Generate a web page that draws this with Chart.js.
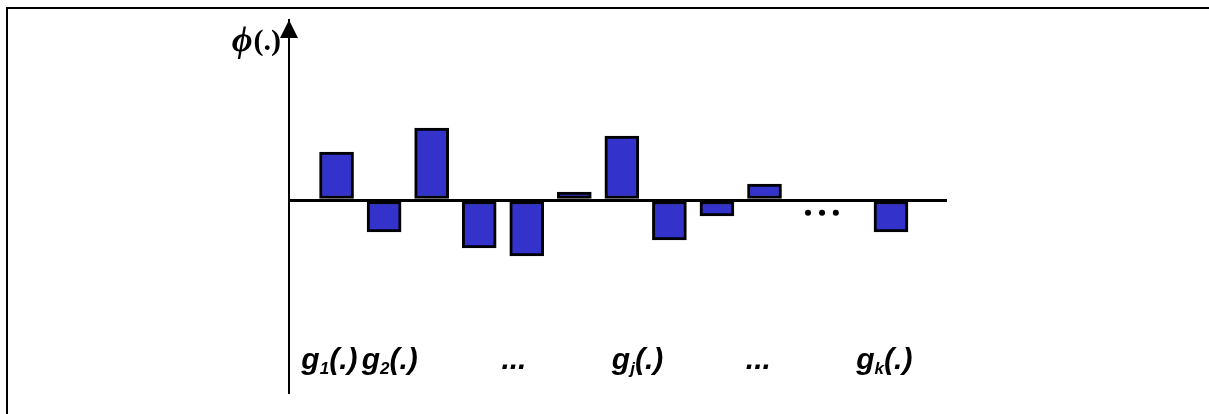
<!DOCTYPE html>
<html><head><meta charset="utf-8">
<script src="https://cdn.jsdelivr.net/npm/chart.js@4.4.1/dist/chart.umd.min.js"></script>
<style>
html,body{margin:0;padding:0;background:#fff;}
#wrap{position:relative;width:1209px;height:414px;overflow:hidden;background:#fff;}
#frame{position:absolute;left:6px;top:7px;width:1300px;height:500px;border-top:2px solid #000;border-left:2px solid #000;}
canvas{position:absolute;left:0;top:0;}
</style></head><body>
<div id="wrap"><div id="frame"></div><canvas id="c" width="1209" height="414"></canvas></div>
<script>
// ---- data ----
const barPositions = [1, 2, 3, 4, 5, 6, 7, 8, 9, 10, 12.66];
const barValues    = [6, -4, 9, -6, -7, 1, 8, -5, -2, 2, -4];
const dotPositions = [10.915, 11.21, 11.5];
const dotValues    = [-1.6, -1.6, -1.6];
const tickPositions = [0.85, 2.12, 4.73, 7.33, 9.87, 12.52];
const tickBase = ['g', 'g', '...', 'g', '...', 'g'];
const tickSub  = ['1', '2', '', 'j', '', 'k'];
const tickTail = ['(.)', '(.)', '', '(.)', '', '(.)'];
const yTitleSymbol = 'ϕ';
const yTitleTail = '(.)';

const axisArrow = {
  id: 'axisArrow',
  afterDraw(chart) {
    const c = chart.ctx, a = chart.chartArea;
    c.save();
    c.fillStyle = '#000';
    c.beginPath();
    c.moveTo(a.left, a.top);
    c.lineTo(a.left - 9, a.top + 18);
    c.lineTo(a.left + 9, a.top + 18);
    c.closePath();
    c.fill();
    // y title
    c.textBaseline = 'alphabetic';
    c.font = 'bold 30px "Liberation Serif", "DejaVu Serif", serif';
    const tw = c.measureText(yTitleTail).width;
    c.textAlign = 'right';
    c.fillText(yTitleTail, a.left - 8, 50);
    c.font = 'italic bold 36px "Liberation Serif", "DejaVu Serif", serif';
    c.fillText(yTitleSymbol, a.left - 9 - tw, 51);
    c.restore();
  }
};

const xLabels = {
  id: 'xLabels',
  afterDraw(chart) {
    const c = chart.ctx, xs = chart.scales.x;
    const mainFont = 'italic bold 30px "Liberation Sans", Arial, sans-serif';
    const subFont = 'italic bold 17px "Liberation Sans", Arial, sans-serif';
    const baseY = 369;
    c.save();
    c.fillStyle = '#000';
    c.textAlign = 'left';
    c.textBaseline = 'alphabetic';
    tickPositions.forEach((p, i) => {
      c.font = mainFont;
      const w1 = c.measureText(tickBase[i]).width;
      const w3 = c.measureText(tickTail[i]).width;
      c.font = subFont;
      const w2 = c.measureText(tickSub[i]).width;
      const total = w1 + w2 + w3;
      let x = xs.getPixelForValue(p) - total / 2;
      c.font = mainFont;
      c.fillText(tickBase[i], x, baseY);
      x += w1;
      c.font = subFont;
      c.fillText(tickSub[i], x, baseY + 5);
      x += w2;
      c.font = mainFont;
      c.fillText(tickTail[i], x, baseY);
    });
    c.restore();
  }
};

new Chart(document.getElementById('c'), {
  type: 'bar',
  data: {
    datasets: [
      {
        type: 'bar',
        data: barPositions.map((x, i) => ({ x: x, y: barValues[i] })),
        backgroundColor: '#3333cc',
        borderColor: '#000',
        borderWidth: 3,
        borderSkipped: false,
        barThickness: 34,
        order: 2
      },
      {
        type: 'scatter',
        data: dotPositions.map((x, i) => ({ x: x, y: dotValues[i] })),
        pointRadius: 3,
        pointBackgroundColor: '#000',
        pointBorderWidth: 0,
        order: 1
      }
    ]
  },
  options: {
    responsive: false,
    animation: false,
    events: [],
    layout: { padding: { left: 289, right: 262, top: 20, bottom: 22 } },
    plugins: { legend: { display: false }, tooltip: { enabled: false } },
    scales: {
      x: { type: 'linear', min: 0, max: 13.838, offset: false, display: false },
      y: {
        min: -24, max: 22.5,
        ticks: { display: false, stepSize: 1 },
        grid: {
          drawTicks: false,
          lineWidth: 3,
          color: (ctx) => (ctx.tick && ctx.tick.value === 0) ? '#000' : 'rgba(0,0,0,0)'
        },
        border: { display: true, color: '#000', width: 2 }
      }
    }
  },
  plugins: [axisArrow, xLabels]
});
</script>
</body></html>
